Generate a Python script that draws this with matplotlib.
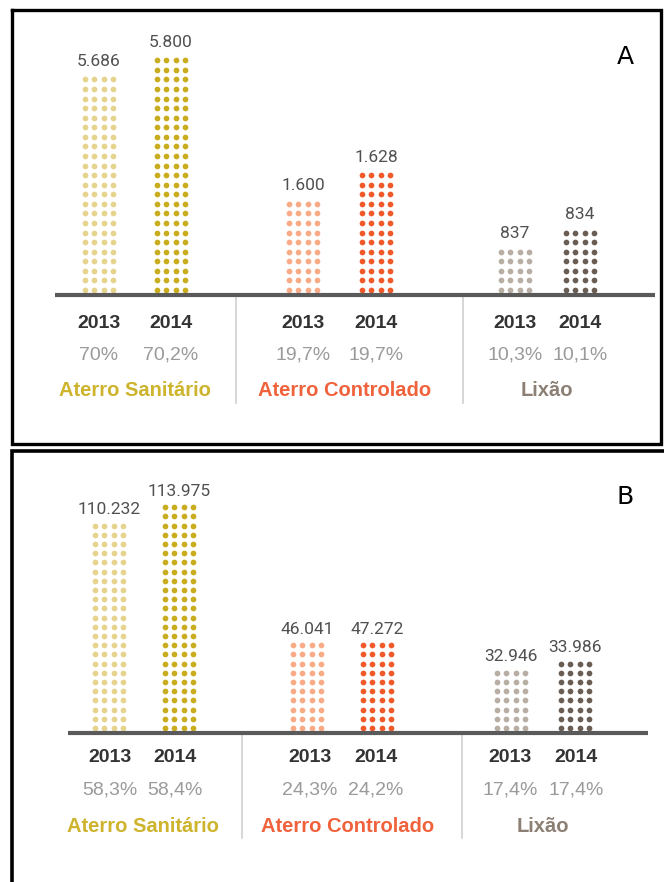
import numpy as np
import matplotlib
matplotlib.use("Agg")
import matplotlib.pyplot as plt

plt.rcParams["font.family"] = ["Liberation Sans", "DejaVu Sans"]

# ---- data ------------------------------------------------------------------
categories = ["Aterro Sanitário", "Aterro Controlado", "Lixão"]
years = ["2013", "2014"]

values_a = [5686, 5800, 1600, 1628, 837, 834]
pct_a = [70, 70.2, 19.7, 19.7, 10.3, 10.1]
rows_a = [23, 25, 10, 13, 5, 7]          # dot rows per bar

values_b = [110232, 113975, 46041, 47272, 32946, 33986]
pct_b = [58.3, 58.4, 24.3, 24.2, 17.4, 17.4]
rows_b = [23, 25, 10, 10, 7, 8]

# ---- styling ---------------------------------------------------------------
cat_colors = ["#cdb42c", "#f0623c", "#8c8075"]
dot_colors = ["#e6d38e", "#c9ad1f", "#f9ab88", "#f05a2b", "#b8aea3", "#6a5e54"]

# per-panel geometry (image pixel coords)
geo_a = dict(bar_x=[99, 171, 303, 376, 515, 580], cat_x=[135, 345, 547],
             sep_x=[236, 463], base=295, base_x=(55, 655), bottom_row=290,
             step=9.57, lab_off=18, year_y=323, pct_y=355, cat_y=390,
             sep_y=(297, 403), letter="A", letter_xy=(625, 57))
geo_b = dict(bar_x=[109, 179, 307, 377, 511, 575], cat_x=[143, 348, 543],
             sep_x=[242, 462], base=733, base_x=(68, 648), bottom_row=728,
             step=9.2, lab_off=16, year_y=758, pct_y=790, cat_y=826,
             sep_y=(735, 838), letter="B", letter_xy=(625, 497))
text_x_b = [110, 175, 310, 376, 510, 576]


def fmt_val(v):
    return f"{v:,}".replace(",", ".")


def fmt_pct(p):
    return f"{p:g}".replace(".", ",") + "%"


def draw_panel(ax, values, pcts, rows, g, text_x=None):
    text_x = text_x or g["bar_x"]
    offs = np.array([-1.5, -0.5, 0.5, 1.5]) * 9.3
    for i, (v, n) in enumerate(zip(values, rows)):
        cx = g["bar_x"][i]
        ys = g["bottom_row"] - g["step"] * np.arange(n)
        X, Y = np.meshgrid(cx + offs, ys)
        ax.scatter(X.ravel(), Y.ravel(), s=17, color=dot_colors[i], lw=0, zorder=2)
        ax.text(cx, ys[-1] - g["lab_off"], fmt_val(v), ha="center", va="center",
                fontsize=12.5, color="#505050", family="Roboto")
        ax.text(text_x[i], g["year_y"], years[i % 2], ha="center", va="center",
                fontsize=14, fontweight="bold", color="#333333")
        ax.text(text_x[i], g["pct_y"], fmt_pct(pcts[i]), ha="center", va="center",
                fontsize=14, color="#9a9a9a")
    ax.plot(g["base_x"], [g["base"]] * 2, color="#5a5a5a", lw=3, zorder=3,
            solid_capstyle="butt")
    for sx in g["sep_x"]:
        ax.plot([sx, sx], g["sep_y"], color="#d0d0d0", lw=1.2)
    for cx, name, c in zip(g["cat_x"], categories, cat_colors):
        ax.text(cx, g["cat_y"], name, ha="center", va="center", fontsize=14.5,
                fontweight="bold", color=c)
    ax.text(*g["letter_xy"], g["letter"], ha="center", va="center",
            fontsize=18, color="black", family="DejaVu Sans")


fig = plt.figure(figsize=(6.64, 8.82), dpi=100)
ax_a = fig.add_axes([0, 1 - 448 / 882, 1, 448 / 882])
ax_a.set_xlim(0, 664)
ax_a.set_ylim(448, 0)
ax_b = fig.add_axes([0, 0, 1, 434 / 882])
ax_b.set_xlim(0, 664)
ax_b.set_ylim(882, 448)
for ax in (ax_a, ax_b):
    ax.axis("off")

draw_panel(ax_a, values_a, pct_a, rows_a, geo_a)
draw_panel(ax_b, values_b, pct_b, rows_b, geo_b, text_x_b)

# panel frames
ax_a.plot([12, 661, 661, 12, 12], [10, 10, 444, 444, 10], color="black", lw=2.4,
          clip_on=False, solid_joinstyle="miter")
ax_b.plot([664, 11.5, 11.5], [451, 451, 882], color="black", lw=2.6,
          clip_on=False, solid_joinstyle="miter")

fig.savefig("out.png", dpi=100)
plt.close(fig)
